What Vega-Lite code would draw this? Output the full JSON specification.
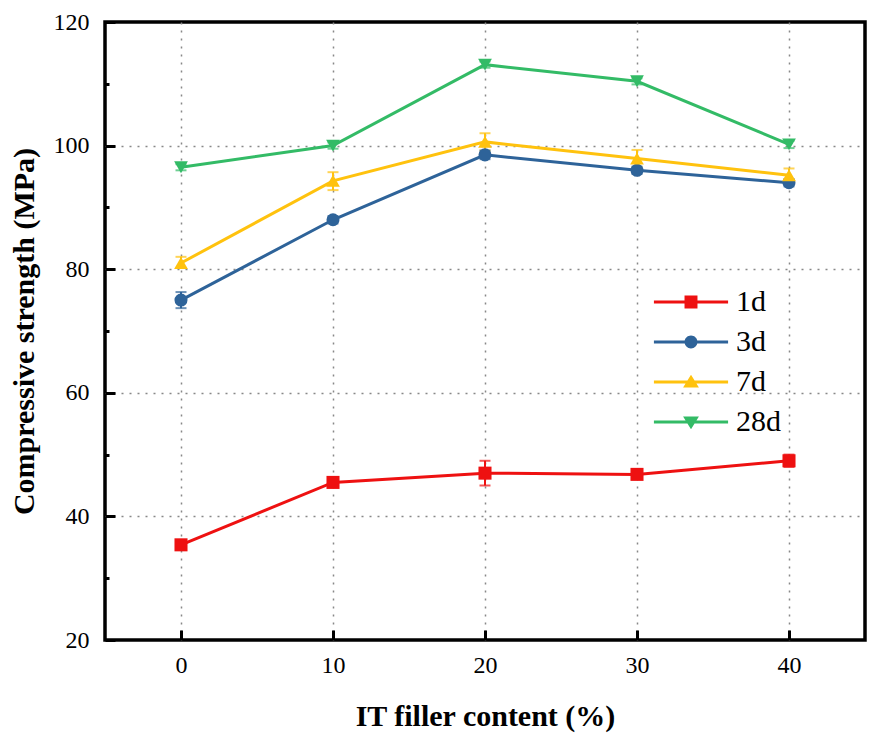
{
  "$schema": "https://vega.github.io/schema/vega-lite/v6.json",
  "width": 760,
  "height": 618,
  "autosize": "none",
  "padding": {"left": 105, "top": 22, "right": 17, "bottom": 103},
  "background": "white",
  "data": {
    "values": [
      {"day": "1d", "content": 0, "strength": 35.4, "lo": 34.8, "hi": 36.0},
      {"day": "1d", "content": 10, "strength": 45.5, "lo": 45.0, "hi": 46.0},
      {"day": "1d", "content": 20, "strength": 47.0, "lo": 45.0, "hi": 49.0},
      {"day": "1d", "content": 30, "strength": 46.8, "lo": 46.2, "hi": 47.4},
      {"day": "1d", "content": 40, "strength": 49.0, "lo": 48.0, "hi": 50.0},
      {"day": "3d", "content": 0, "strength": 75.0, "lo": 73.7, "hi": 76.3},
      {"day": "3d", "content": 10, "strength": 88.0, "lo": 87.4, "hi": 88.6},
      {"day": "3d", "content": 20, "strength": 98.5, "lo": 97.8, "hi": 99.2},
      {"day": "3d", "content": 30, "strength": 96.0, "lo": 95.4, "hi": 96.6},
      {"day": "3d", "content": 40, "strength": 94.0, "lo": 93.4, "hi": 94.6},
      {"day": "7d", "content": 0, "strength": 81.0, "lo": 80.2, "hi": 82.0},
      {"day": "7d", "content": 10, "strength": 94.3, "lo": 92.8, "hi": 95.7},
      {"day": "7d", "content": 20, "strength": 100.6, "lo": 99.2, "hi": 102.0},
      {"day": "7d", "content": 30, "strength": 97.9, "lo": 96.5, "hi": 99.3},
      {"day": "7d", "content": 40, "strength": 95.2, "lo": 94.2, "hi": 96.3},
      {"day": "28d", "content": 0, "strength": 96.5, "lo": 96.0, "hi": 97.0},
      {"day": "28d", "content": 10, "strength": 100.0, "lo": 99.5, "hi": 100.5},
      {"day": "28d", "content": 20, "strength": 113.1, "lo": 112.6, "hi": 113.6},
      {"day": "28d", "content": 30, "strength": 110.4, "lo": 109.9, "hi": 110.9},
      {"day": "28d", "content": 40, "strength": 100.2, "lo": 99.6, "hi": 100.8}
    ]
  },
  "encoding": {
    "x": {
      "field": "content",
      "type": "quantitative",
      "scale": {"domain": [-5, 45], "nice": false, "zero": false},
      "axis": {
        "title": "IT filler content (%)",
        "values": [0, 10, 20, 30, 40],
        "domain": false,
        "tickSize": -10,
        "tickWidth": 3,
        "tickColor": "black",
        "labelPadding": 23,
        "labelFont": "Liberation Serif",
        "labelFontSize": 24,
        "titleFontSize": 30,
        "titlePadding": 24,
        "gridDash": [2, 6]
      }
    },
    "y": {
      "field": "strength",
      "type": "quantitative",
      "scale": {"domain": [20, 120], "nice": false, "zero": false},
      "axis": {
        "title": "Compressive strength (MPa)",
        "values": [20, 30, 40, 50, 60, 70, 80, 90, 100, 110, 120],
        "labelExpr": "datum.value % 20 === 0 ? datum.label : ''",
        "domain": false,
        "tickSize": {"condition": {"test": "datum.value % 20 === 0", "value": -10}, "value": -4},
        "tickWidth": 3,
        "tickColor": "black",
        "labelPadding": 26,
        "labelFont": "Liberation Serif",
        "labelFontSize": 24,
        "titleFontSize": 30,
        "titlePadding": 14,
        "gridDash": [2, 6],
        "gridOpacity": {"condition": {"test": "datum.value % 20 === 0 && datum.value > 20 && datum.value < 120", "value": 1}, "value": 0}
      }
    },
    "color": {
      "field": "day",
      "type": "nominal",
      "scale": {
        "domain": ["1d", "3d", "7d", "28d"],
        "range": ["#EE1111", "#2E6399", "#FFC20E", "#33BB66"]
      }
    }
  },
  "layer": [
    {
      "mark": {"type": "line", "strokeWidth": 3}
    },
    {
      "mark": {"type": "rule", "strokeWidth": 2},
      "encoding": {
        "y": {"field": "lo", "type": "quantitative"},
        "y2": {"field": "hi"}
      }
    },
    {
      "mark": {"type": "tick", "orient": "horizontal", "size": 11, "thickness": 2},
      "encoding": {"y": {"field": "lo", "type": "quantitative"}}
    },
    {
      "mark": {"type": "tick", "orient": "horizontal", "size": 11, "thickness": 2},
      "encoding": {"y": {"field": "hi", "type": "quantitative"}}
    },
    {
      "transform": [{"filter": "datum.day === '1d'"}],
      "mark": {"type": "point", "shape": "square", "filled": true, "opacity": 1, "size": 170}
    },
    {
      "transform": [{"filter": "datum.day === '3d'"}],
      "mark": {"type": "point", "shape": "circle", "filled": true, "opacity": 1, "size": 170}
    },
    {
      "transform": [{"filter": "datum.day === '7d'"}],
      "mark": {"type": "point", "shape": "triangle-up", "filled": true, "opacity": 1, "size": 190}
    },
    {
      "transform": [{"filter": "datum.day === '28d'"}],
      "mark": {"type": "point", "shape": "triangle-down", "filled": true, "opacity": 1, "size": 190}
    },
    {
      "transform": [{"filter": "datum.content > 1000"}],
      "mark": {"type": "point", "opacity": 1, "filled": true},
      "encoding": {
        "shape": {
          "field": "day",
          "type": "nominal",
          "scale": {
            "domain": ["1d", "3d", "7d", "28d"],
            "range": [
              "M-2.06,-0.08H2.06V0.08H-2.06ZM-0.36,-0.36H0.36V0.36H-0.36Z",
              "M-2.06,-0.08H2.06V0.08H-2.06ZM-0.36,0A0.36,0.36,0,1,1,0.36,0A0.36,0.36,0,1,1,-0.36,0Z",
              "M-2.06,-0.08H2.06V0.08H-2.06ZM0,-0.4L0.44,0.3L-0.44,0.3Z",
              "M-2.06,-0.08H2.06V0.08H-2.06ZM0,0.4L-0.44,-0.3L0.44,-0.3Z"
            ]
          },
          "legend": {}
        }
      }
    }
  ],
  "config": {
    "font": "Liberation Serif",
    "view": {"stroke": "black", "strokeWidth": 3.5},
    "axis": {
      "labelFont": "Liberation Serif",
      "labelColor": "black",
      "titleFont": "Liberation Serif",
      "titleFontWeight": "bold",
      "titleColor": "black",
      "gridColor": "#888888",
      "gridWidth": 1.5
    },
    "legend": {
      "orient": "none",
      "legendX": 568,
      "legendY": 262,
      "padding": 0,
      "title": null,
      "labelFont": "Liberation Serif",
      "labelFontSize": 30,
      "labelColor": "black",
      "symbolSize": 1296,
      "symbolStrokeWidth": 0,
      "rowPadding": 7,
      "labelOffset": 27,
      "symbolOpacity": 1
    }
  }
}
